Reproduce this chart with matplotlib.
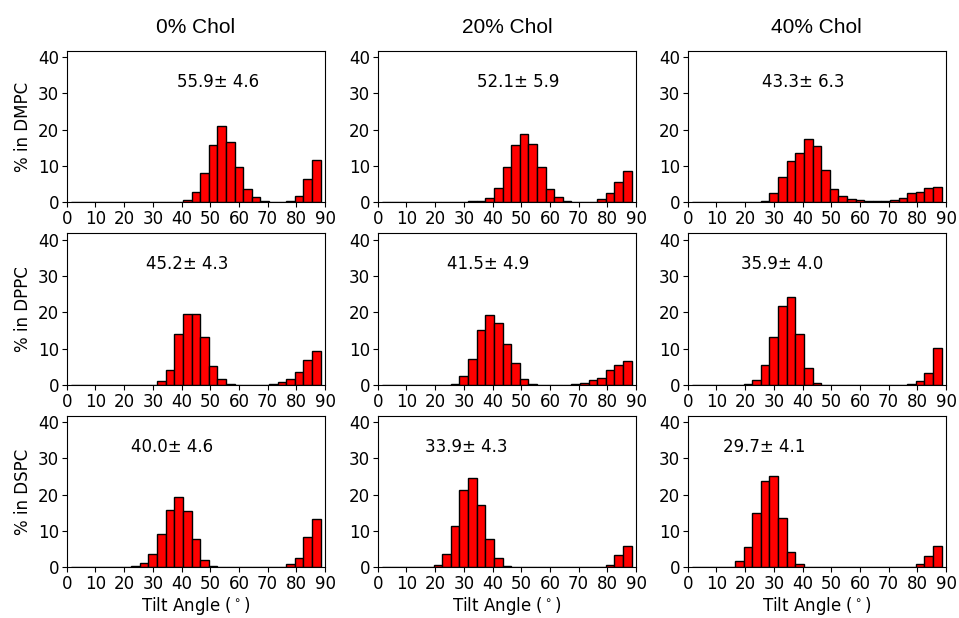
import matplotlib
matplotlib.use("Agg")
import matplotlib.pyplot as plt

bin_centers = [3, 6, 9, 12, 15, 18, 21, 24, 27, 30, 33, 36, 39, 42, 45,
               48, 51, 54, 57, 60, 63, 66, 69, 72, 75, 78, 81, 84, 87]
bin_width = 3

col_titles = ["0% Chol", "20% Chol", "40% Chol"]
row_labels = ["% in DMPC", "% in DPPC", "% in DSPC"]

dmpc_0 = [0, 0, 0, 0, 0, 0, 0, 0, 0, 0, 0, 0, 0.05, 0.5, 2.9, 8.1, 15.8, 21.1, 16.6, 9.7, 3.6, 1.5, 0.4, 0.1, 0.1, 0.3, 1.7, 6.4, 11.6]
dmpc_20 = [0, 0, 0, 0, 0.05, 0.1, 0.1, 0.1, 0.2, 0.2, 0.3, 0.4, 1.2, 3.9, 9.6, 15.9, 18.9, 16.2, 9.6, 3.8, 1.4, 0.4, 0.1, 0.1, 0.2, 0.8, 2.5, 5.5, 8.7]
dmpc_40 = [0, 0, 0, 0, 0, 0, 0, 0.1, 0.3, 2.7, 7.1, 11.5, 13.7, 17.5, 15.6, 8.8, 3.7, 1.7, 1.0, 0.5, 0.4, 0.4, 0.3, 0.5, 1.1, 2.5, 2.9, 3.9, 4.2]
dppc_0 = [0, 0, 0, 0, 0, 0, 0, 0, 0, 0, 1.0, 4.1, 14.0, 19.6, 19.6, 13.1, 5.3, 1.7, 0.4, 0.1, 0.1, 0.05, 0.1, 0.3, 0.7, 1.7, 3.6, 6.9, 9.4]
dppc_20 = [0, 0, 0, 0, 0, 0, 0, 0, 0.4, 2.5, 7.3, 15.1, 19.2, 17.1, 11.3, 6.2, 1.6, 0.3, 0.1, 0.1, 0.1, 0.1, 0.3, 0.6, 1.3, 2.0, 4.0, 5.4, 6.5]
dppc_40 = [0, 0, 0, 0, 0, 0, 0.2, 1.3, 5.4, 13.3, 21.7, 24.2, 14.1, 4.6, 0.6, 0.1, 0, 0, 0, 0, 0, 0, 0, 0, 0.1, 0.3, 1.0, 3.3, 10.1]
dspc_0 = [0, 0, 0, 0, 0, 0, 0.1, 0.4, 1.3, 3.7, 9.3, 15.9, 19.3, 15.6, 7.7, 2.0, 0.3, 0.1, 0.05, 0, 0, 0, 0, 0.1, 0.2, 0.9, 2.5, 8.3, 13.4]
dspc_20 = [0, 0, 0, 0, 0, 0.1, 0.7, 3.7, 11.5, 21.2, 24.7, 17.3, 7.8, 2.5, 0.4, 0.05, 0, 0, 0, 0, 0, 0, 0, 0, 0.1, 0.2, 0.7, 3.4, 5.8]
dspc_40 = [0, 0, 0, 0, 0.2, 1.7, 5.6, 14.9, 23.8, 25.2, 13.6, 4.2, 0.9, 0.1, 0, 0, 0, 0, 0, 0, 0, 0, 0, 0, 0, 0.2, 0.9, 3.0, 5.9]

means = [[55.9, 52.1, 43.3], [45.2, 41.5, 35.9], [40.0, 33.9, 29.7]]
stds = [[4.6, 5.9, 6.3], [4.3, 4.9, 4.0], [4.6, 4.3, 4.1]]

heights = [[dmpc_0, dmpc_20, dmpc_40],
           [dppc_0, dppc_20, dppc_40],
           [dspc_0, dspc_20, dspc_40]]

x_ticks = [0, 10, 20, 30, 40, 50, 60, 70, 80, 90]
y_ticks = [0, 10, 20, 30, 40]

W, H = 959, 618
fig = plt.figure(figsize=(W / 100, H / 100), dpi=100)

lefts = [66.7, 377.7, 687.7]
bottoms = [202.3, 385.0, 567.3]
aw, ah = 258.3, 151.6

for r in range(3):
    for c in range(3):
        ax = fig.add_axes([lefts[c] / W, 1 - bottoms[r] / H, aw / W, ah / H])
        ax.bar(bin_centers, heights[r][c], width=bin_width, color="red",
               edgecolor="black", linewidth=1.0)
        ax.set_xlim(0, 90)
        ax.set_ylim(0, 41.8)
        ax.set_xticks(x_ticks)
        ax.set_yticks(y_ticks)
        ax.tick_params(labelsize=12, pad=2)
        ax.text(means[r][c] - 17.5, 33.3, f"{means[r][c]:.1f}\u00b1 {stds[r][c]:.1f}",
                fontsize=12, ha="left", va="center")
        if r == 0:
            ax.set_title(col_titles[c], fontsize=15, family="Liberation Sans", pad=13)
        if c == 0:
            ax.set_ylabel(row_labels[r], fontsize=12)
        if r == 2:
            ax.set_xlabel(r"Tilt Angle ($^\circ$)", fontsize=12, labelpad=1.5)

fig.savefig("out.png", dpi=100)
